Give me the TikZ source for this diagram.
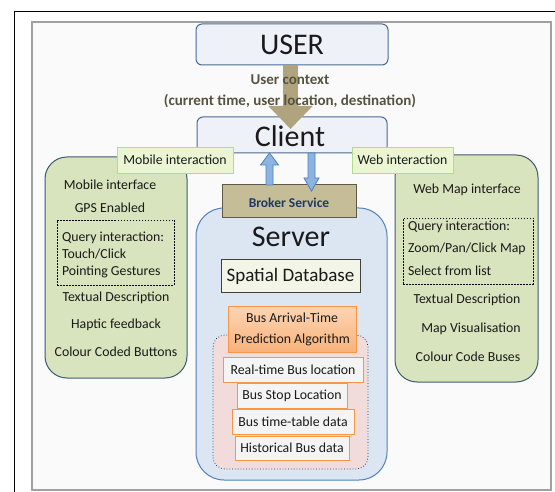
\documentclass[tikz,border=0pt]{standalone}
\usepackage{fontspec}
\setmainfont{Carlito}
\usetikzlibrary{arrows.meta,calc}
\definecolor{boxfill}{HTML}{EEF2F8}
\definecolor{boxline}{HTML}{4A6A94}
\definecolor{tanarrow}{HTML}{B0A47F}
\definecolor{greenfill}{HTML}{D7E4BD}
\definecolor{greenline}{HTML}{3F5B73}
\definecolor{labfill}{HTML}{EBF5D3}
\definecolor{labline}{HTML}{B3DB8C}
\definecolor{servfill}{HTML}{DCE6F2}
\definecolor{servline}{HTML}{4F81BD}
\definecolor{brokfill}{HTML}{C4BD97}
\definecolor{brokline}{HTML}{5E5A45}
\definecolor{broktext}{HTML}{1F3864}
\definecolor{dbfill}{HTML}{F3F5E6}
\definecolor{pinkfill}{HTML}{F2DCDB}
\definecolor{orangetop}{HTML}{FCD5B4}
\definecolor{orangebot}{HTML}{F9B27A}
\definecolor{orangeline}{HTML}{F79646}
\definecolor{datafill}{HTML}{F4F4F4}
\definecolor{bluearrow}{HTML}{8DB3E2}
\definecolor{ctxtext}{HTML}{55533F}
\definecolor{txt}{HTML}{1A1A1A}
\definecolor{framegray}{HTML}{A0A0A0}
\begin{document}
\begin{tikzpicture}[x=1pt,y=-1pt,
  every node/.style={inner sep=0pt,outer sep=0pt,text=txt},
  big/.style={font=\fontsize{30}{34}\selectfont},
  small/.style={font=\fontsize{13.8}{17}\selectfont},
  topbox/.style={draw=boxline,fill=boxfill,line width=1pt,rounded corners=6pt,big},
  panel/.style={draw=greenline,fill=greenfill,line width=1pt,rounded corners=22pt},
  label/.style={draw=labline,fill=labfill,line width=0.8pt,small},
  dashbox/.style={draw=black,line width=0.5pt,dash pattern=on 1.5pt off 1.5pt},
  datab/.style={draw=orangeline,fill=datafill,line width=0.8pt,small},
  bluearr/.style={draw=servline,fill=bluearrow,line width=0.8pt,line join=miter}]
\useasboundingbox (0,0) rectangle (555,492);
% frames
\draw[black,line width=1pt] (14,492) -- (14,12) -- (555,12);
\draw[framegray,fill=white!98!black,line width=1.4pt] (32,22) rectangle (551,490);
% user and client
\node[topbox,minimum width=192pt,minimum height=41pt] (user) at (292,44.5) {USER};
\node[topbox,minimum width=190pt,minimum height=36pt] (client) at (292,135) {};
\node[big] (clienttxt) at (290,136) {Client};
\coordinate (ax) at (290.5,0);
\draw[tanarrow,line width=15pt,-{Triangle[width=43pt,length=23pt]},shorten >=-12pt] (user.south -| ax) -- (client.north -| ax);
\node[font=\bfseries\fontsize{15}{18}\selectfont,text=ctxtext] (ctx1) at (290,80) {User context};
\node[font=\bfseries\fontsize{15}{18}\selectfont,text=ctxtext] (ctx2) at (290,101) {(current time, user location, destination)};
% panels
\node[panel,minimum width=142pt,minimum height=221pt] (left) at (116,267.5) {};
\node[panel,minimum width=143pt,minimum height=227pt] (right) at (466.5,268.5) {};
\node[draw=servline,fill=servfill,line width=1pt,rounded corners=28pt,minimum width=191pt,minimum height=272pt] (server) at (291.5,344) {};
\node[draw=brokline,fill=brokfill,line width=1pt,minimum width=134pt,minimum height=33pt] (broker) at (289,201.5) {};
\node[font=\bfseries\fontsize{13.5}{16}\selectfont,text=broktext] (brokertxt) at (289,203) {Broker Service};
% blue arrows
\coordinate (ux) at (269.5,0);
\coordinate (dx) at (311.5,0);
\coordinate (uB) at (broker.north -| ux);
\coordinate (uT) at (client.south -| ux);
\coordinate (dB) at (client.south -| dx);
\coordinate (dT) at ($(broker.north -| dx)+(0,6)$);
\filldraw[bluearr] ($(uB)+(-3.5,0)$) -- ($(uT)+(-3.5,12)$) -- ($(uT)+(-9,12)$) -- (uT) -- ($(uT)+(9,12)$) -- ($(uT)+(3.5,12)$) -- ($(uB)+(3.5,0)$) -- cycle;
\filldraw[bluearr] ($(dB)+(-3.5,0)$) -- ($(dT)+(-3.5,-13)$) -- ($(dT)+(-7.5,-13)$) -- (dT) -- ($(dT)+(7.5,-13)$) -- ($(dT)+(3.5,-13)$) -- ($(dB)+(3.5,0)$) -- cycle;
% labels
\node[label,minimum width=116pt,minimum height=26pt] (mob) at (175,160) {Mobile interaction};
\node[label,minimum width=101pt,minimum height=26pt] (web) at (402.5,160) {Web interaction};
% left panel content
\node[small] (l1) at (110,185) {Mobile interface};
\node[small] (l2) at (110,208) {GPS Enabled};
\node[dashbox,minimum width=117pt,minimum height=65pt] (lq) at (115.5,252.5) {};
\node[small,align=left,anchor=west] (lqt) at (62,255) {Query interaction:\\Touch/Click\\Pointing Gestures};
\node[small] (l3) at (116,298) {Textual Description};
\node[small] (l4) at (116,325) {Haptic feedback};
\node[small] (l5) at (116,352) {Colour Coded Buttons};
% right panel content
\node[small] (r1) at (467,190) {Web Map interface};
\node[dashbox,minimum width=130pt,minimum height=66pt] (rq) at (468,251) {};
\node[align=left,anchor=west,font=\fontsize{13.8}{22.5}\selectfont] (rqt) at (408,248) {Query interaction:\\Zoom/Pan/Click Map\\Select from list};
\node[small] (r3) at (467,300) {Textual Description};
\node[small] (r4) at (471,329) {Map Visualisation};
\node[small] (r5) at (468,357) {Colour Code Buses};
% server content
\node[big] (servertxt) at (291,237) {Server};
\node[draw=black!75,fill=dbfill,line width=1pt,minimum width=139pt,minimum height=33pt,font=\fontsize{19}{22}\selectfont] (db) at (290.5,276.5) {Spatial Database};
\node[draw=broktext,fill=pinkfill,dotted,line width=0.8pt,rounded corners=12pt,minimum width=155pt,minimum height=134pt] (pink) at (290.5,402) {};
\node[draw=orangeline,top color=orangetop,bottom color=orangebot,line width=0.8pt,minimum width=128pt,minimum height=46pt,align=center,font=\fontsize{13.8}{21}\selectfont] (algo) at (292,329) {Bus Arrival-Time\\Prediction Algorithm};
\node[datab,minimum width=140pt,minimum height=25pt] (rt) at (293,369.5) {Real-time Bus location};
\node[datab,minimum width=110pt,minimum height=25pt] (stop) at (292,395.5) {Bus Stop Location};
\node[datab,minimum width=122pt,minimum height=25pt] (tt) at (293,421.5) {Bus time-table data};
\node[datab,minimum width=114pt,minimum height=24pt] (hist) at (292,448) {Historical Bus data};
\end{tikzpicture}
\end{document}
